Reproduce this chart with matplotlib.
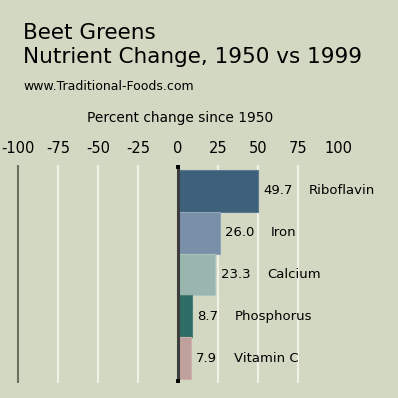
import matplotlib
matplotlib.use("Agg")
import matplotlib.pyplot as plt

nutrients = ["Riboflavin", "Iron", "Calcium", "Phosphorus", "Vitamin C"]
changes = [49.7, 26.0, 23.3, 8.7, 7.9]
bar_colors = ["#3e617b", "#7a90a8", "#98b6ae", "#2e6d65", "#c0a09c"]
tick_values = [-100, -75, -50, -25, 0, 25, 50, 75, 100]
tick_labels = ["-100", "-75", "-50", "-25", "0", "25", "50", "75", "100"]

BG = "#d3d8c2"
W = H = 398
fig = plt.figure(figsize=(W / 100, H / 100), dpi=100, facecolor=BG)
plt.rcParams['font.family'] = ['DejaVu Sans']

# axes spanning pixel rows 165..383, full width
ax = fig.add_axes([0, 1 - 383 / H, 1, (383 - 165) / H])
ax.set_facecolor(BG)
ax.patch.set_alpha(0)
for s in ax.spines.values():
    s.set_visible(False)

ppu = 1.6
ax.set_xlim(-178 / ppu, (W - 178) / ppu)
upx = 41.8
ax.set_ylim(4.5 + 4 / upx, -0.5 - 5 / upx)

# gridlines
for v in tick_values:
    if v == -100:
        ax.axvline(v, color="#6c7060", lw=1.5, zorder=1)
    elif v == 0 or v == 100:
        continue
    else:
        ax.axvline(v, color="#f1f3ea", lw=1.4, zorder=1)

ypos = list(range(len(nutrients)))
ax.barh(ypos, changes, height=1.0, color=bar_colors, edgecolor=[
    "#5a7b92", "#91a3b8", "#abc4bd", "#4a8078", "#cbb0ac"], linewidth=0.8, zorder=2)

# zero line
ax.axvline(0, color="#3c3c3c", lw=2.2, zorder=3)
ax.plot([0, 0], [-0.5 - 5 / upx, -0.5 - 1 / upx], color="black", lw=2.8, zorder=4, solid_capstyle="butt")
ax.plot([0, 0], [4.5 + 4 / upx, 4.5], color="black", lw=2.8, zorder=4, solid_capstyle="butt")

for y, v, n in zip(ypos, changes, nutrients):
    t = ax.annotate(f"{v:.1f}", xy=(v, y), xytext=(4, 0), textcoords="offset points",
                    ha="left", va="center", fontsize=9.5, color="black", zorder=5)
    ax.annotate(n, xy=(1, 0.5), xycoords=t, xytext=(12, 0), textcoords="offset points",
                ha="left", va="center", fontsize=9.5, color="black", zorder=5)

ax.set_yticks([])
ax.set_xticks(tick_values)
ax.set_xticklabels(tick_labels)
ax.xaxis.tick_top()
ax.tick_params(axis="x", length=0, pad=6.5, labelsize=10.5, labelcolor="black")

fig.text(23 / W, 1 - 39 / H, "Beet Greens", fontsize=15.5, va="baseline", ha="left")
fig.text(23 / W, 1 - 63 / H, "Nutrient Change, 1950 vs 1999", fontsize=15.5, va="baseline", ha="left")
fig.text(23 / W, 1 - 90 / H, "www.Traditional-Foods.com", fontsize=9.0, va="baseline", ha="left")
fig.text(87 / W, 1 - 122 / H, "Percent change since 1950", fontsize=9.9, va="baseline", ha="left")

fig.savefig("out.png", dpi=100, facecolor=BG)
